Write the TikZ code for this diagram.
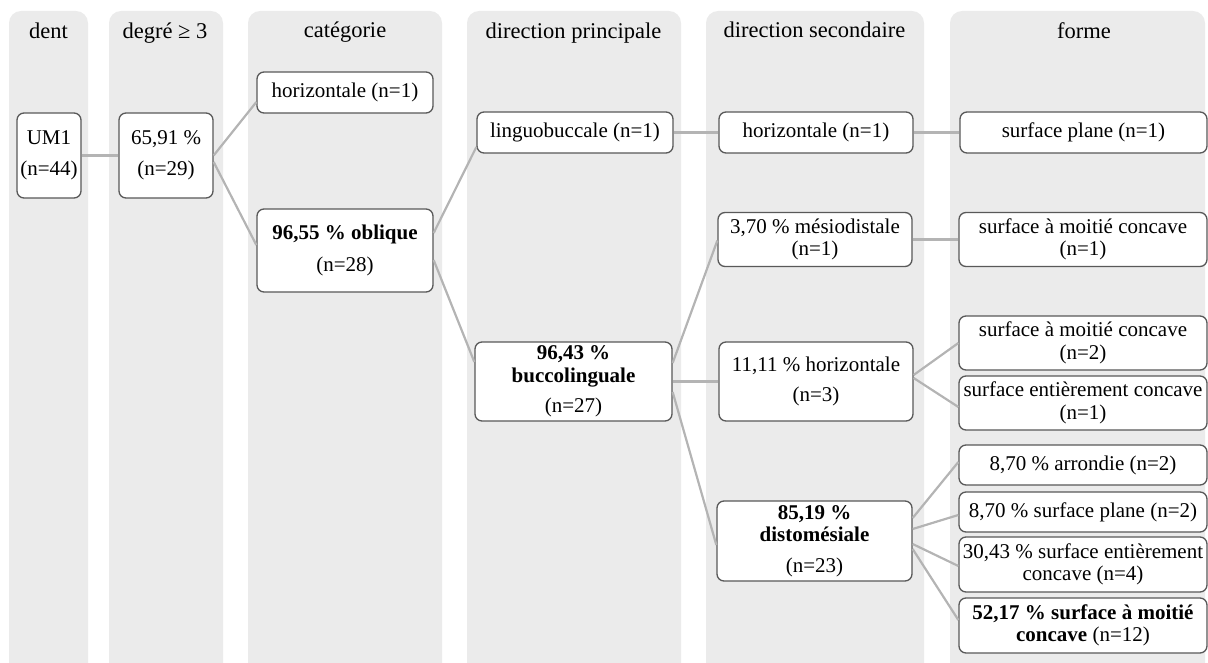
\documentclass[tikz,border=0pt]{standalone}
\usepackage{fontspec}
\setmainfont{Liberation Serif}
\definecolor{colfill}{HTML}{EBEBEB}
\definecolor{boxborder}{HTML}{595959}
\definecolor{linkcol}{HTML}{B4B4B4}
\tikzset{
  colbg/.style={fill=colfill, rounded corners=12pt},
  header/.style={anchor=base, inner sep=0pt, font=\fontsize{22.5}{25}\selectfont},
  box/.style={draw=boxborder, line width=1.3pt, fill=white, rounded corners=7pt,
    inner sep=0pt, align=center, font=\fontsize{21}{22.5}\selectfont},
  link/.style={draw=linkcol, line width=2.2pt},
}
\begin{document}
\begin{tikzpicture}[x=1pt,y=-1pt]
\useasboundingbox (0,0) rectangle (1208,663);
\clip (0,0) rectangle (1208,663);
% columns
\fill[colbg] (9,700) -- (9,11) -- (88,11) -- (88,700) -- cycle;
\fill[colbg] (109,700) -- (109,11) -- (223,11) -- (223,700) -- cycle;
\fill[colbg] (248,700) -- (248,11) -- (442,11) -- (442,700) -- cycle;
\fill[colbg] (467,700) -- (467,11) -- (681,11) -- (681,700) -- cycle;
\fill[colbg] (706,700) -- (706,11) -- (924,11) -- (924,700) -- cycle;
\fill[colbg] (950,700) -- (950,11) -- (1205,11) -- (1205,700) -- cycle;
% headers
\node[header] (h1) at (48.5,39) {dent};
\node[header] (h2) at (165,39) {degré ≥ 3};
\node[header] (h3) at (345,37.5) {catégorie};
\node[header] (h4) at (573.5,39) {direction principale};
\node[header] (h5) at (814.5,37.5) {direction secondaire};
\node[header] (h6) at (1084,38.5) {forme};
% nodes
\node[box, minimum width=64pt, minimum height=85pt] (um1) at (49,155.5) {UM1\\[9pt](n=44)};
\node[box, minimum width=94pt, minimum height=85pt] (deg) at (166,155.5) {65,91 \%\\[9pt](n=29)};
\node[box, minimum width=176pt, minimum height=41pt] (hcat) at (345,92.5) {horizontale (n=1)};
\node[box, minimum width=176pt, minimum height=83pt] (obl) at (345,250.5) {\bfseries 96,55 \% oblique\\[9pt](n=28)};
\node[box, minimum width=196pt, minimum height=41pt] (lingu) at (575,132.5) {linguobuccale (n=1)};
\node[box, minimum width=197pt, minimum height=79pt] (bucco) at (573.5,381.5) {\bfseries 96,43 \%\\\bfseries buccolinguale\\[8pt](n=27)};
\node[box, minimum width=194pt, minimum height=41pt] (hsec) at (816,132.5) {horizontale (n=1)};
\node[box, minimum width=194pt, minimum height=54pt] (mesio) at (815,239.5) {3,70 \% mésiodistale\\(n=1)};
\node[box, minimum width=194pt, minimum height=79pt] (h1111) at (816,381.5) {11,11 \% horizontale\\[8pt](n=3)};
\node[box, minimum width=195pt, minimum height=80pt] (disto) at (814.5,541) {\bfseries 85,19 \%\\\bfseries distomésiale\\[8pt](n=23)};
\node[box, minimum width=247pt, minimum height=41pt] (splane) at (1083.5,132.5) {surface plane (n=1)};
\node[box, minimum width=248pt, minimum height=54pt] (smc1) at (1083,239.5) {surface à moitié concave\\(n=1)};
\node[box, minimum width=248pt, minimum height=54pt] (smc2) at (1083,343) {surface à moitié concave\\(n=2)};
\node[box, minimum width=248pt, minimum height=54pt] (sec1) at (1083,403) {surface entièrement concave\\(n=1)};
\node[box, minimum width=248pt, minimum height=40pt] (arr) at (1083,465) {8,70 \% arrondie (n=2)};
\node[box, minimum width=248pt, minimum height=40pt] (spl2) at (1083,512) {8,70 \% surface plane (n=2)};
\node[box, minimum width=248pt, minimum height=55pt] (sec4) at (1083,564.5) {30,43 \% surface entièrement\\concave (n=4)};
\node[box, minimum width=248pt, minimum height=55pt] (smc12) at (1083,625.5) {\bfseries 52,17 \% surface à moitié\\{\bfseries concave} (n=12)};
% connectors
\draw[link] (um1.east) -- (deg.west);
\draw[link] (deg.east) -- ([yshift=-9.5pt]hcat.west);
\draw[link] ([yshift=-6.5pt]deg.east) -- ([yshift=5.5pt]obl.west);
\draw[link] ([yshift=17.5pt]obl.east) -- ([yshift=-14.5pt]lingu.west);
\draw[link] ([yshift=-9.5pt]obl.east) -- ([yshift=19.5pt]bucco.west);
\draw[link] (lingu.east) -- (hsec.west);
\draw[link] (hsec.east) -- (splane.west);
\draw[link] ([yshift=18.5pt]bucco.east) -- ([yshift=-1pt]mesio.west);
\draw[link] (bucco.east) -- (h1111.west);
\draw[link] ([yshift=-10.5pt]bucco.east) -- ([yshift=-4pt]disto.west);
\draw[link] (mesio.east) -- (smc1.west);
\draw[link] ([yshift=6.5pt]h1111.east) -- (smc2.west);
\draw[link] ([yshift=3.5pt]h1111.east) -- ([yshift=-4pt]sec1.west);
\draw[link] ([yshift=23pt]disto.east) -- ([yshift=3pt]arr.west);
\draw[link] ([yshift=12pt]disto.east) -- ([yshift=-3pt]spl2.west);
\draw[link] ([yshift=-3pt]disto.east) -- ([yshift=-1.5pt]sec4.west);
\draw[link] ([yshift=-8pt]disto.east) -- ([yshift=5.5pt]smc12.west);
\end{tikzpicture}
\end{document}
